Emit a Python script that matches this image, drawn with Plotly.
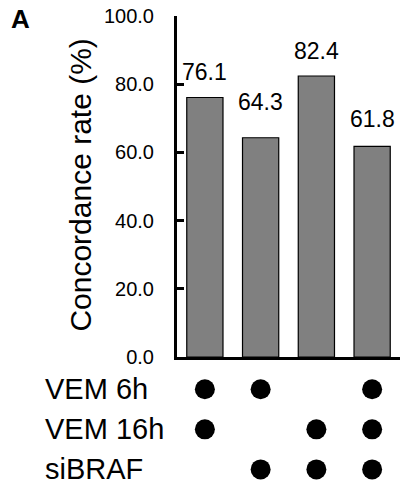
import plotly.graph_objects as go

# ---- data ----
conditions = [0, 1, 2, 3]
rates = [76.1, 64.3, 82.4, 61.8]
rate_labels = ["76.1", "64.3", "82.4", "61.8"]
row_names = ["VEM 6h", "VEM 16h", "siBRAF"]
vem6 = [1, 1, 0, 1]
vem16 = [1, 0, 1, 1]
sibraf = [0, 1, 1, 1]
y_ticks = [0, 20, 40, 60, 80, 100]

# ---- style ----
FONT = "Liberation Sans, Arial, sans-serif"
label_shift = [11, 21, 10, 12]
row_levels = [3, 2, 1]

fig = go.Figure()
fig.add_trace(go.Bar(
    x=conditions, y=rates, width=0.65,
    marker=dict(color="#808080", line=dict(color="#000000", width=1.2)),
    xaxis="x", yaxis="y", showlegend=False, hoverinfo="skip",
))

for flags, lvl in zip([vem6, vem16, sibraf], row_levels):
    xs = [c for c, f in zip(conditions, flags) if f]
    fig.add_trace(go.Scatter(
        x=xs, y=[lvl] * len(xs), mode="markers",
        marker=dict(color="#000000", size=20),
        xaxis="x", yaxis="y2", showlegend=False, hoverinfo="skip",
    ))

annotations = []
for c, v, t, s in zip(conditions, rates, rate_labels, label_shift):
    annotations.append(dict(x=c, y=v, xref="x", yref="y", text=t, showarrow=False,
                            yanchor="bottom", xanchor="center", yshift=s,
                            font=dict(family=FONT, size=23, color="#000")))
for name, lvl in zip(row_names, row_levels):
    annotations.append(dict(x=-0.6, y=lvl, xref="paper", yref="y2", text=name,
                            showarrow=False, xanchor="left", yanchor="middle",
                            font=dict(family=FONT, size=29, color="#000")))
annotations.append(dict(x=-0.4305, y=0.642, xref="paper", yref="paper",
                        text="Concordance rate (%)", textangle=-90, showarrow=False,
                        xanchor="center", yanchor="middle",
                        font=dict(family=FONT, size=30, color="#000")))
annotations.append(dict(x=-0.755, y=1.03, xref="paper", yref="paper",
                        text="<b>A</b>", showarrow=False, xanchor="left", yanchor="top",
                        font=dict(family=FONT, size=26, color="#000")))

fig.update_layout(
    width=400, height=498,
    margin=dict(l=177, r=0, t=16, b=0),
    plot_bgcolor="white", paper_bgcolor="white",
    font=dict(family=FONT, color="#000"),
    xaxis=dict(range=[-0.5, 3.5], showticklabels=False, ticks="", showgrid=False,
               zeroline=False, showline=True, linecolor="#000", linewidth=3,
               anchor="y", fixedrange=True),
    yaxis=dict(domain=[0.2759, 1], range=[0, 100], tickvals=y_ticks,
               tickformat=".1f", ticks="inside", ticklen=7, tickwidth=2.5,
               tickcolor="#000", showline=True, linecolor="#000", linewidth=3,
               showgrid=False, zeroline=False, ticklabelstandoff=16,
               tickfont=dict(family=FONT, size=20, color="#000"), anchor="x"),
    yaxis2=dict(domain=[0, 0.2759], range=[0.561, 3.805], visible=False,
                anchor="x", showgrid=False, zeroline=False),
    annotations=annotations,
)

post = (
    "document.documentElement.style.margin='0';"
    "document.documentElement.style.overflow='hidden';"
    "document.body.style.margin='0';"
    "document.body.style.overflow='hidden';"
)
fig.write_html("out.html", config={"displayModeBar": False}, post_script=post)
